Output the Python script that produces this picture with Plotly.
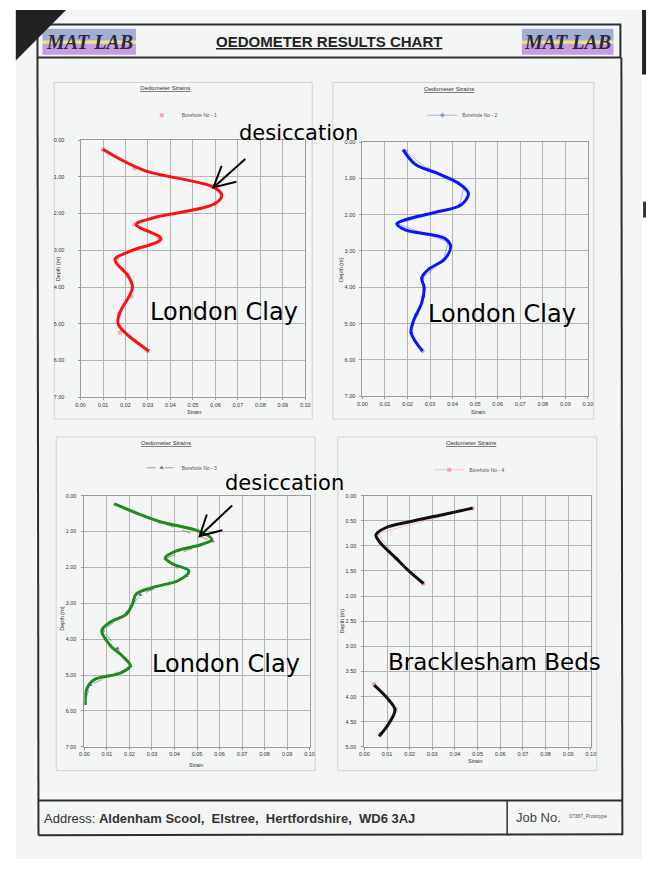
import plotly.graph_objects as go

W, H = 651, 871

# ---------------- data (strain, depth in m) ----------------
# Borehole 1 - Excel series markers
bh1_strain = [0.010, 0.024, 0.059, 0.060, 0.024, 0.035, 0.016, 0.021, 0.0226, 0.017, 0.0175, 0.030]
bh1_depth = [0.25, 0.77, 1.25, 1.72, 2.30, 2.72, 3.23, 3.70, 4.25, 4.74, 5.24, 5.74]
# Borehole 1 - hand drawn trend
bh1_trend_strain = [0.0099, 0.0277, 0.0591, 0.0628, 0.0599, 0.0321, 0.0248, 0.0358, 0.0219, 0.0153,
                    0.0212, 0.0231, 0.0175, 0.0168, 0.0304]
bh1_trend_depth = [0.25, 0.81, 1.28, 1.49, 1.73, 2.12, 2.30, 2.69, 3.03, 3.25,
                   3.70, 4.02, 4.70, 5.01, 5.74]

# Borehole 2
bh2_strain = [0.019, 0.029, 0.045, 0.043, 0.0155, 0.038, 0.036, 0.0265, 0.027, 0.024, 0.0216, 0.0266]
bh2_depth = [0.25, 0.75, 1.25, 1.75, 2.25, 2.75, 3.25, 3.75, 4.25, 4.75, 5.25, 5.75]
bh2_trend_strain = [0.018, 0.0234, 0.0336, 0.0423, 0.047, 0.0438, 0.0321, 0.019, 0.0153, 0.019,
                    0.0365, 0.0391, 0.0365, 0.0292, 0.0263, 0.0274, 0.0263, 0.0226, 0.0216, 0.0266]
bh2_trend_depth = [0.21, 0.61, 0.87, 1.12, 1.41, 1.73, 1.94, 2.14, 2.25, 2.42,
                   2.65, 2.87, 3.22, 3.51, 3.74, 4.01, 4.43, 4.93, 5.25, 5.75]

# Borehole 3
bh3_strain = [0.0136, 0.0335, 0.0569, 0.036, 0.0452, 0.0248, 0.019, 0.0082, 0.0146, 0.0204, 0.0026, 0.0]
bh3_depth = [0.24, 0.74, 1.27, 1.75, 2.24, 2.76, 3.25, 3.76, 4.26, 4.75, 5.28, 5.80]
bh3_trend_strain = [0.0136, 0.0332, 0.0507, 0.0566, 0.0522, 0.0405, 0.0359, 0.039, 0.0464, 0.042,
                    0.0303, 0.023, 0.0213, 0.0187, 0.0114, 0.0077, 0.0114, 0.0172, 0.0204, 0.0157,
                    0.0041, 0.0009, 0.0004]
bh3_trend_depth = [0.24, 0.72, 0.99, 1.22, 1.36, 1.55, 1.73, 1.90, 2.10, 2.36,
                   2.56, 2.74, 3.02, 3.30, 3.53, 3.76, 4.17, 4.49, 4.75, 4.95,
                   5.14, 5.41, 5.83]

# Borehole 4 (Bracklesham Beds) - gap between the two sampled zones
bh4_strain = [0.0478, 0.006, 0.014, 0.026, None, 0.0043, 0.0138, 0.0070]
bh4_depth = [0.25, 0.75, 1.25, 1.75, None, 3.75, 4.25, 4.75]
bh4_trend_strain = [0.0478, 0.0355, 0.021, 0.0094, 0.0051, 0.0065, 0.0138, 0.0196, 0.0261,
                    None, 0.0043, 0.0101, 0.0135, 0.0109, 0.0065]
bh4_trend_depth = [0.25, 0.37, 0.51, 0.64, 0.78, 0.91, 1.24, 1.50, 1.75,
                   None, 3.77, 4.03, 4.26, 4.53, 4.79]

strain_ticks = [0.00, 0.01, 0.02, 0.03, 0.04, 0.05, 0.06, 0.07, 0.08, 0.09, 0.10]

# ---------------- helpers ----------------
def fx(x):
    return x / W


def fy(y):
    return 1 - y / H


def note(text, x, y, font, xanchor="center", yanchor="middle", **kw):
    d = dict(x=fx(x), y=fy(y), xref="paper", yref="paper", showarrow=False, text=text,
             font=font, xanchor=xanchor, yanchor=yanchor)
    d.update(kw)
    return d


fig = go.Figure()

panels = [
    dict(rect=(76.7, 305, 138, 397), dmax=7, dtick=1, area=(50, 312, 80, 419), standoff=12),
    dict(rect=(363, 592, 140, 396), dmax=7, dtick=1, area=(333, 598, 80, 419), standoff=3),
    dict(rect=(80.7, 309.3, 496, 749), dmax=7, dtick=1, area=(52, 315, 437, 773), standoff=4),
    dict(rect=(365, 595, 496, 749), dmax=5, dtick=0.5, area=(338, 601, 437, 773), standoff=4),
]

series = [
    dict(s=bh1_strain, d=bh1_depth, ts=bh1_trend_strain, td=bh1_trend_depth,
         name="Borehole No - 1", mode="markers", mcol="rgba(240,110,110,0.55)",
         lcol="rgba(240,110,110,0.4)", sym="square", dash="solid", tcol="#ff1010"),
    dict(s=bh2_strain, d=bh2_depth, ts=bh2_trend_strain, td=bh2_trend_depth,
         name="Borehole No - 2", mode="lines+markers", mcol="rgba(90,110,220,0.6)",
         lcol="rgba(90,110,220,0.5)", sym="diamond", dash="solid", tcol="#0a14ff"),
    dict(s=bh3_strain, d=bh3_depth, ts=bh3_trend_strain, td=bh3_trend_depth,
         name="Borehole No - 3", mode="lines+markers", mcol="rgba(70,70,70,0.8)",
         lcol="rgba(120,120,120,0.7)", sym="triangle-up", dash="dash", tcol="#1f8a1f"),
    dict(s=bh4_strain, d=bh4_depth, ts=bh4_trend_strain, td=bh4_trend_depth,
         name="Borehole No - 4", mode="lines+markers", mcol="rgba(240,120,120,0.6)",
         lcol="rgba(240,150,150,0.5)", sym="square", dash="solid", tcol="#111111"),
]

legend_pos = [(180, 113), (465, 113), (180, 468), (472, 470)]
title_pos = [(163, 86), (451, 87), (164, 443), (473, 443)]
ytitle_pos = [(54, 268), (341, 268), (58, 620), (342, 622)]
xtitle_pos = [(192, 412), (480, 412), (194, 767), (477, 763)]

tickfont = dict(family="Liberation Sans", size=5.5, color="#333")
small = dict(family="Liberation Sans", size=5.5, color="#333")
annotations = []
shapes = []

# page background
shapes.append(dict(type="rect", xref="paper", yref="paper", x0=fx(11), x1=fx(647),
                   y0=fy(862), y1=fy(7), fillcolor="#f4f6f6", line=dict(width=0), layer="below"))

for i, (p, sr) in enumerate(zip(panels, series), start=1):
    x0, x1, y0, y1 = p["rect"]
    xa = "x" if i == 1 else f"x{i}"
    ya = "y" if i == 1 else f"y{i}"
    leg = "legend" if i == 1 else f"legend{i}"
    fig.add_trace(go.Scatter(
        x=sr["s"], y=sr["d"], mode=sr["mode"], name=sr["name"],
        marker=dict(symbol=sr["sym"], size=4, color=sr["mcol"]),
        line=dict(color=sr["lcol"], width=1, dash=sr["dash"]),
        connectgaps=False, xaxis=xa, yaxis=ya, legend=leg, showlegend=True))
    fig.add_trace(go.Scatter(
        x=sr["ts"], y=sr["td"], mode="lines",
        line=dict(color=sr["tcol"], width=3, shape="spline", smoothing=1.0),
        connectgaps=False, xaxis=xa, yaxis=ya, showlegend=False, hoverinfo="skip"))

    axx = dict(domain=[fx(x0), fx(x1)], range=[0, 0.10], tickvals=strain_ticks,
               tickformat=".2f", tickfont=tickfont, showgrid=True, gridcolor="#b4b4b4",
               gridwidth=0.8, showline=True, linecolor="#9a9a9a", mirror=True,
               ticks="outside", ticklen=2, tickcolor="#9a9a9a", zeroline=False,
               anchor=ya, fixedrange=True)
    axy = dict(domain=[fy(y1), fy(y0)], range=[p["dmax"], 0], dtick=p["dtick"], tick0=0,
               tickformat=".2f", tickfont=tickfont, showgrid=True, gridcolor="#b4b4b4",
               gridwidth=0.8, showline=True, linecolor="#9a9a9a", mirror=True,
               ticks="outside", ticklen=2, tickcolor="#9a9a9a", zeroline=False,
               anchor=xa, ticklabelstandoff=p["standoff"], fixedrange=True)
    fig.update_layout({("xaxis" if i == 1 else f"xaxis{i}"): axx,
                       ("yaxis" if i == 1 else f"yaxis{i}"): axy})

    lx, ly = legend_pos[i - 1]
    fig.update_layout({leg: dict(x=fx(lx), y=fy(ly), xanchor="center", yanchor="middle",
                                 font=dict(family="Liberation Sans", size=5, color="#555"),
                                 bgcolor="rgba(0,0,0,0)", borderwidth=0, itemwidth=30,
                                 orientation="h")})

    ax0, ax1, ay0, ay1 = p["area"]
    shapes.append(dict(type="rect", xref="paper", yref="paper", x0=fx(ax0), x1=fx(ax1),
                       y0=fy(ay1), y1=fy(ay0), line=dict(color="#d2d2d2", width=1),
                       fillcolor="rgba(0,0,0,0)", layer="below"))

    tx, ty = title_pos[i - 1]
    annotations.append(note("<u>Oedometer Strains</u>", tx, ty,
                            dict(family="Liberation Sans", size=6, color="#333")))
    yx, yy = ytitle_pos[i - 1]
    annotations.append(note("Depth (m)", yx, yy, small, textangle=-90))
    xx, xy = xtitle_pos[i - 1]
    annotations.append(note("Strain", xx, xy, small))

# ---------------- hand-written notes ----------------
hand = dict(family="DejaVu Sans", color="#000")
notes = [
    ("desiccation", 298, 131, 21),
    ("London Clay", 222, 311, 24),
    ("London Clay", 505, 313, 24),
    ("desiccation", 284, 483, 21),
    ("London Clay", 224, 666, 24),
    ("Bracklesham Beds", 497, 664, 23),
]
for t, x, y, s in notes:
    annotations.append(note(t, x, y, dict(size=s, **hand)))


def path(points):
    return "M " + " L ".join(f"{fx(a):.5f},{fy(b):.5f}" for a, b in points)


arrows = [
    [(244, 157), (211.7, 185.7)],
    [(220, 164), (211.7, 185.7), (235, 180)],
    [(230.7, 506), (197.7, 536.7)],
    [(205, 515), (197.7, 536.7), (220.7, 531)],
]
for a in arrows:
    shapes.append(dict(type="path", xref="paper", yref="paper", path=path(a),
                       line=dict(color="#000", width=2)))

# ---------------- document frame ----------------
frame_col = "#2e2e2e"
shapes += [
    dict(type="rect", xref="paper", yref="paper", x0=fx(33), x1=fx(625), y0=fy(55), y1=fy(21.7),
         line=dict(color=frame_col, width=2)),
    dict(type="line", xref="paper", yref="paper", x0=fx(33), x1=fx(34), y0=fy(55), y1=fy(838),
         line=dict(color=frame_col, width=2)),
    dict(type="line", xref="paper", yref="paper", x0=fx(626), x1=fx(627), y0=fy(55), y1=fy(838),
         line=dict(color=frame_col, width=2)),
    dict(type="line", xref="paper", yref="paper", x0=fx(34), x1=fx(627), y0=fy(803), y1=fy(803),
         line=dict(color=frame_col, width=2)),
    dict(type="line", xref="paper", yref="paper", x0=fx(34), x1=fx(627), y0=fy(838), y1=fy(837),
         line=dict(color=frame_col, width=2)),
    dict(type="line", xref="paper", yref="paper", x0=fx(510), x1=fx(510), y0=fy(803), y1=fy(838),
         line=dict(color=frame_col, width=1.5)),
    # scan artifacts
    dict(type="path", xref="paper", yref="paper", path=path([(11, 7), (62, 7), (11, 58)]) + " Z",
         fillcolor="#222", line=dict(width=0)),
    dict(type="rect", xref="paper", yref="paper", x0=fx(647), x1=fx(651), y0=fy(72), y1=fy(7),
         fillcolor="#222", line=dict(width=0)),
    dict(type="rect", xref="paper", yref="paper", x0=fx(648), x1=fx(651), y0=fy(216), y1=fy(200),
         fillcolor="#333", line=dict(width=0)),
]

# logos
for lx0, lx1 in [(38, 133), (525, 618)]:
    bands = [(26, 38, "#a3aed2"), (38, 41, "#ece47c"), (41, 52, "#c79ce2")]
    for b0, b1, c in bands:
        shapes.append(dict(type="rect", xref="paper", yref="paper", x0=fx(lx0), x1=fx(lx1),
                           y0=fy(b1), y1=fy(b0), fillcolor=c, line=dict(width=0), layer="below"))
    annotations.append(note("MAT LAB", (lx0 + lx1) / 2, 39.5,
                            dict(family="Liberation Serif", size=20, color="#2a2a38",
                                 weight="bold", style="italic")))

annotations.append(note("<u>OEDOMETER RESULTS CHART</u>", 329.5, 38.5,
                        dict(family="Liberation Sans", size=15, color="#222", weight="bold")))

nb = "\u00a0"
annotations.append(note(
    f"Address:{nb}<b>Aldenham Scool,{nb}{nb}Elstree,{nb}{nb}Hertfordshire,{nb}{nb}WD6 3AJ</b>",
    38, 821, dict(family="Liberation Sans", size=13, color="#333"), xanchor="left"))
annotations.append(note("Job No.", 517, 820,
                        dict(family="Liberation Sans", size=13, color="#444"), xanchor="left"))
annotations.append(note("07387_Prototype", 571, 819,
                        dict(family="Liberation Sans", size=5, color="#555"), xanchor="left"))

fig.update_layout(
    width=W, height=H, margin=dict(l=0, r=0, t=0, b=0),
    paper_bgcolor="#ffffff", plot_bgcolor="rgba(0,0,0,0)",
    shapes=shapes, annotations=annotations,
)

fig.write_html("out.html")
